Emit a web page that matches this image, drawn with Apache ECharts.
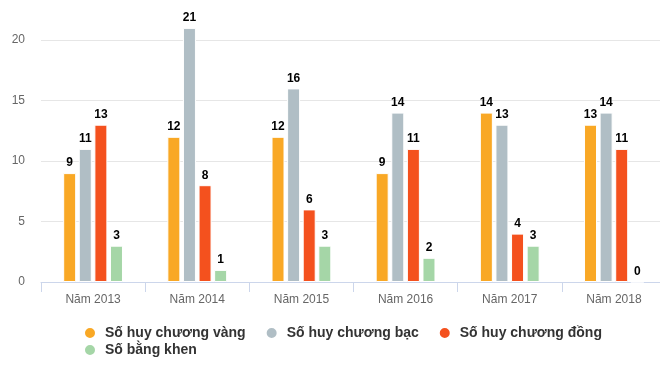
<!DOCTYPE html>
<html>
<head>
<meta charset="utf-8">
<script src="https://cdn.jsdelivr.net/npm/echarts@6/dist/echarts.min.js"></script>
<style>html,body{margin:0;padding:0;background:#fff;}#c{width:660px;height:370px;}</style>
</head>
<body>
<div id="c"></div>
<script>
var categories = ['Năm 2013', 'Năm 2014', 'Năm 2015', 'Năm 2016', 'Năm 2017', 'Năm 2018'];
var seriesNames = ['Số huy chương vàng', 'Số huy chương bạc', 'Số huy chương đồng', 'Số bằng khen'];
var gold = [9, 12, 12, 9, 14, 13];
var silver = [11, 21, 16, 14, 13, 14];
var bronze = [13, 8, 6, 11, 4, 11];
var merit = [3, 1, 3, 2, 3, 0];
var yTicks = [0, 5, 10, 15, 20];

var colors = ['#F9A825', '#B0BEC5', '#F4511E', '#A5D6A7'];
var values = [gold, silver, bronze, merit];
var font = '"Liberation Sans", Arial, sans-serif';

var chart = echarts.init(document.getElementById('c'), null, {renderer: 'canvas'});
var series = seriesNames.map(function (n, i) {
  return {
    name: n,
    type: 'bar',
    data: values[i],
    barWidth: 13,
    barGap: '20%',
    clip: false,
    itemStyle: {color: colors[i], borderColor: '#fff', borderWidth: 1},
    label: {
      show: true, position: 'top', distance: 4,
      color: '#000', fontWeight: 'bold', fontSize: 12, fontFamily: font
    }
  };
});
var legendCommon = {
  icon: 'circle', itemWidth: 20, itemHeight: 12, itemGap: 19,
  textStyle: {color: '#333', fontSize: 14, fontWeight: 'bold', fontFamily: font},
  orient: 'horizontal'
};
chart.setOption({
  animation: false,
  color: colors,
  textStyle: {fontFamily: font},
  grid: {left: 41, top: 40, width: 625, height: 242, containLabel: false, outerBoundsMode: 'none'},
  legend: [
    Object.assign({}, legendCommon, {left: 78, top: 321, data: seriesNames.slice(0, 3)}),
    Object.assign({}, legendCommon, {left: 78, top: 338, data: seriesNames.slice(3)})
  ],
  xAxis: {
    type: 'category',
    data: categories,
    axisLine: {lineStyle: {color: '#ccd6eb'}},
    axisTick: {show: true, length: 10, lineStyle: {color: '#ccd6eb'}},
    axisLabel: {color: '#666', fontSize: 12, margin: 12, fontFamily: font}
  },
  yAxis: {
    type: 'value',
    min: yTicks[0], max: yTicks[yTicks.length - 1], interval: 5,
    axisLine: {show: false}, axisTick: {show: false},
    axisLabel: {color: '#666', fontSize: 12, margin: 16, fontFamily: font},
    splitLine: {lineStyle: {color: '#e6e6e6'}}
  },
  series: series
});
</script>
</body>
</html>
